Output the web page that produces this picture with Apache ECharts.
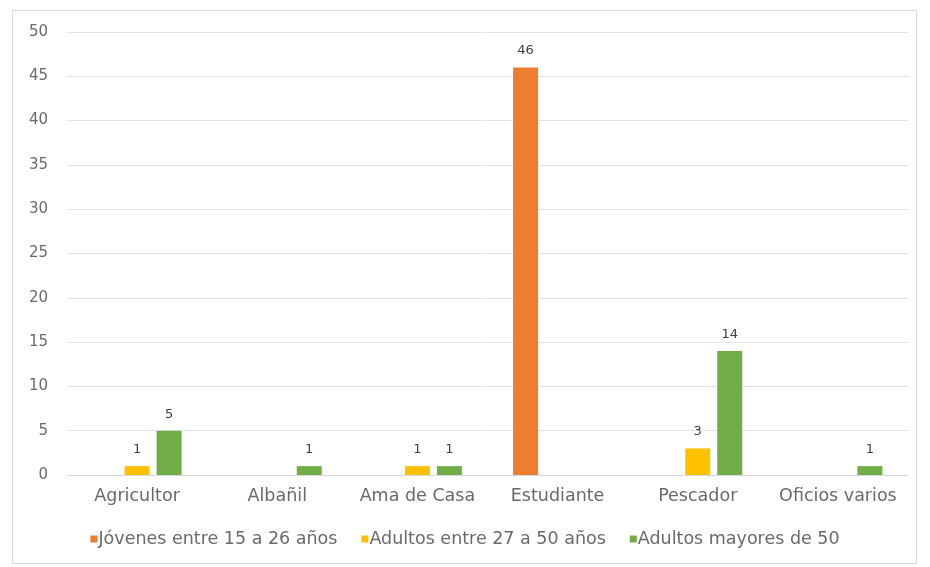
<!DOCTYPE html>
<html>
<head>
<meta charset="utf-8">
<script src="https://cdn.jsdelivr.net/npm/echarts@6/dist/echarts.min.js"></script>
<style>
  html, body { margin: 0; padding: 0; background: #ffffff; }
  #chart { width: 930px; height: 567px; }
</style>
</head>
<body>
<div id="chart"></div>
<script>
// Ocupación por grupo de edad
const categories = ['Agricultor', 'Albañil', 'Ama de Casa', 'Estudiante', 'Pescador', 'Oficios varios'];
const seriesNames = ['Jóvenes entre 15 a 26 años', 'Adultos entre 27 a 50 años', 'Adultos mayores de 50'];
const jovenes = [null, null, null, 46, null, null];
const adultos = [1, null, 1, null, 3, null];
const mayores = [5, 1, 1, null, 14, 1];
const yTicks = { min: 0, max: 50, interval: 5 };

const colors = ['#ED7D31', '#FFC000', '#70AD47'];
const textColor = '#6a6a6a';
const fontFamily = '"DejaVu Sans", "Noto Sans", sans-serif';

const chart = echarts.init(document.getElementById('chart'), null, { renderer: 'canvas' });

function barSeries(name, data, color) {
  return {
    name: name,
    type: 'bar',
    data: data,
    barWidth: 25,
    barGap: '28%',
    itemStyle: { color: color },
    label: {
      show: true,
      position: 'top',
      distance: 10,
      color: '#404040',
      fontSize: 13,
      fontFamily: fontFamily
    }
  };
}

chart.setOption({
  animation: false,
  color: colors,
  graphic: [{
    type: 'rect',
    shape: { x: 12.5, y: 10.5, width: 904, height: 553 },
    style: { fill: 'none', stroke: '#D9D9D9', lineWidth: 1 },
    silent: true
  }],
  grid: { left: 67, right: 22, top: 32, bottom: 92, containLabel: false },
  legend: {
    bottom: 14,
    left: 'center',
    itemWidth: 7,
    itemHeight: 7,
    itemGap: 24,
    icon: 'rect',
    textStyle: { color: textColor, fontSize: 17.5, fontFamily: fontFamily, padding: [0, 0, 0, -4] },
    data: seriesNames
  },
  xAxis: {
    type: 'category',
    data: categories,
    axisLine: { show: true, lineStyle: { color: '#D9D9D9' } },
    axisTick: { show: false },
    axisLabel: { interval: 0, hideOverlap: false, color: textColor, fontSize: 17.5, fontFamily: fontFamily, margin: 12 }
  },
  yAxis: {
    type: 'value',
    min: yTicks.min,
    max: yTicks.max,
    interval: yTicks.interval,
    axisLine: { show: false },
    axisTick: { show: false },
    splitLine: { lineStyle: { color: '#E3E3E3' } },
    axisLabel: { color: textColor, fontSize: 15, fontFamily: fontFamily, margin: 19 }
  },
  series: [
    barSeries(seriesNames[0], jovenes, colors[0]),
    barSeries(seriesNames[1], adultos, colors[1]),
    barSeries(seriesNames[2], mayores, colors[2])
  ]
});
</script>
</body>
</html>
